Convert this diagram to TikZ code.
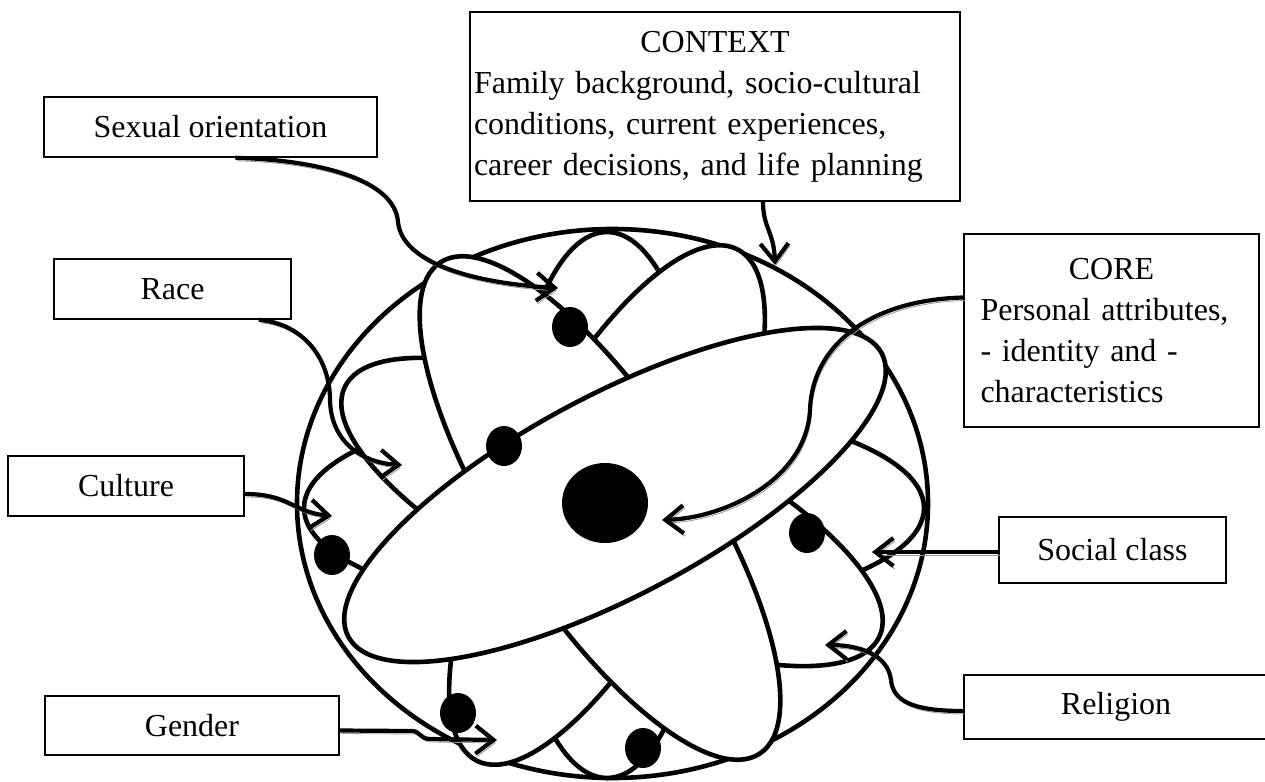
\documentclass[tikz,border=0pt]{standalone}
\usepackage{fontspec}
\setmainfont{Liberation Serif}
\usetikzlibrary{arrows.meta,shapes.geometric}

\begin{document}
\begin{tikzpicture}[x=1pt, y=-1pt, thick,
	label box/.style={draw, line width=1.6pt, inner sep=0pt, font=\fontsize{32}{41}\selectfont},
	orbit/.style={draw, fill=white, line width=4.6pt},
	electron/.style={ellipse, fill=black, inner sep=0pt, minimum width=36pt, minimum height=40pt},
	link/.style={line width=4.2pt, -{Straight Barb[length=18pt,width=28pt]},
		preaction={draw=black!40, transform canvas={shift={(1.5pt,-3pt)}}}}]

	\useasboundingbox (0,0) rectangle (1265,781);

	% atom: shell, orbits (back to front), nucleus
	\draw[orbit] (612.5,503.5) ellipse [x radius=315.5pt, y radius=274.5pt];
	\draw[orbit] (614,508) ellipse [x radius=310pt, y radius=104pt];
	\draw[orbit, rotate around={-25:(612,512)}] (612,512) ellipse [x radius=295pt, y radius=100pt];
	\draw[orbit] (607,505) ellipse [x radius=100pt, y radius=273pt];
	\draw[orbit, rotate around={63:(607,505)}] (607,505) ellipse [x radius=287pt, y radius=100pt];
	\draw[orbit, rotate around={-57:(600,508)}] (600,508) ellipse [x radius=293pt, y radius=100pt];
	\draw[orbit, rotate around={28:(615,495)}] (615,495) ellipse [x radius=302pt, y radius=100pt];

	\node[electron, minimum width=86pt, minimum height=80pt] (nuc) at (605,503) {};
	\foreach \p [count=\i] in {(570,327),(504,446),(332,555),(807,533),(458,713),(643,748)}
		\node[electron] (e\i) at \p {};

	% boxes
	\node[label box, minimum width=333pt, minimum height=60pt] (so) at (210.5,127) {Sexual orientation};
	\node[label box, minimum width=237pt, minimum height=60pt] (race) at (172.5,289) {Race};
	\node[label box, minimum width=236pt, minimum height=60pt] (cult) at (126,486) {Culture};
	\node[label box, minimum width=294pt, minimum height=59pt] (gend) at (192,725.5) {Gender};
	\node[label box, minimum width=490pt, minimum height=189pt, text width=482pt, align=left] (ctx) at (715,106.5)
		{\makebox[482pt]{CONTEXT}\\Family background, socio-cultural\\conditions, current experiences,\\career decisions, and life planning};
	\node[label box, minimum width=295pt, minimum height=193pt, text width=262pt, align=left] (core) at (1111.5,330.5)
		{\makebox[262pt]{CORE}\\Personal attributes,\\- identity and -\\characteristics};
	\node[label box, minimum width=227pt, minimum height=66pt] (soc) at (1112.5,550) {Social class};
	\node[label box, minimum width=304pt, minimum height=64pt] (rel) at (1116,707) {Religion};

	% arrow ends
	\coordinate (soTip) at (558,288);
	\coordinate (ctxTip) at (775,265);
	\coordinate (coreTip) at (662,520);
	\coordinate (raceTip) at (402,465);
	\coordinate (cultTip) at (332,516);
	\coordinate (socTip) at (872,552);
	\coordinate (relTip) at (825,645);
	\coordinate (gendTip) at (497,740);

	\draw[link] ([xshift=25pt]so.south) .. controls (320,160) and (395,180) .. (398,222)
		.. controls (402,262) and (470,283) .. (soTip);
	\draw[link] ([xshift=48pt]ctx.south) .. controls (763,228) and (774,232) .. (ctxTip);
	\draw[link] ([yshift=33pt]core.west) .. controls (870,300) and (812,345) .. (810,410)
		.. controls (806,480) and (725,518) .. (coreTip);
	\draw[link] ([xshift=-33pt]race.south east) .. controls (305,324) and (330,360) .. (330,400)
		.. controls (331,442) and (362,463) .. (raceTip);
	\draw[link] ([yshift=-8pt]cult.east) .. controls (290,494) and (292,512) .. (cultTip);
	\draw[link] ([yshift=-2pt]soc.west) -- (socTip);
	\draw[link] ([yshift=-4pt]rel.west) .. controls (910,711) and (893,700) .. (891,680)
		.. controls (888,655) and (860,645) .. (relTip);
	\draw[link] ([yshift=-5pt]gend.east) -- (412,731) .. controls (420,731) and (420,739) .. (430,739) -- (gendTip);
\end{tikzpicture}
\end{document}
